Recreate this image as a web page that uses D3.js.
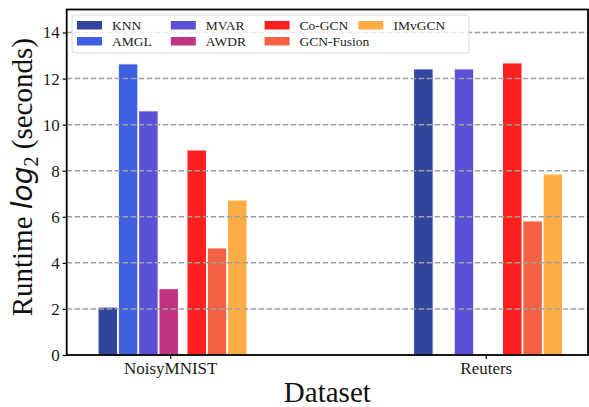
<!DOCTYPE html>
<html>
<head>
<meta charset="utf-8">
<script src="https://cdn.jsdelivr.net/npm/d3@7"></script>
<style>
  body { margin: 0; background: #fff; }
  svg text { font-family: "Liberation Serif", "Times New Roman", "DejaVu Serif", serif; }
  svg text .math { font-family: "DejaVu Sans", sans-serif; font-style: italic; }
</style>
</head>
<body>
<div id="chart"></div>
<script>
// Data
const datasets = ['NoisyMNIST', 'Reuters'];
const methods = ['KNN', 'AMGL', 'MVAR', 'AWDR', 'Co-GCN', 'GCN-Fusion', 'IMvGCN'];
const colors = ['#31459a', '#3f5fe3', '#5a52d6', '#c03582', '#ff1f1f', '#f46143', '#fcae45'];
// runtime (log2 seconds), one array per dataset, null = not available
const noisyMnistValues = [2.08, 12.64, 10.6, 2.88, 8.9, 4.65, 6.73];
const reutersValues = [12.42, null, 12.42, null, 12.68, 5.82, 7.86];
const yTicks = [0, 2, 4, 6, 8, 10, 12, 14];

const values = [noisyMnistValues, reutersValues];

const width = 589, height = 407;
const plot = { left: 66.7, right: 588, top: 9.5, bottom: 355 };

const svg = d3.select('#chart')
    .append('svg')
    .attr('width', width)
    .attr('height', height);

const x = d3.scaleLinear()
    .domain([-0.328, 1.324])
    .range([plot.left, plot.right]);

const y = d3.scaleLinear()
    .domain([0, 15])
    .range([plot.bottom, plot.top]);

// slot position of each method inside a group (small extra gap before the GCN methods)
const slot = d3.scaleLinear().domain([0, 3]).range([-62.4, -1.5]);
const offset = i => slot(i) + (i >= 4 ? 7.7 : 0);
const barWidth = 19.5;

// Bars
const bars = [];
datasets.forEach((ds, di) => {
    methods.forEach((m, mi) => {
        const v = values[di][mi];
        if (v != null) bars.push({ di, mi, v });
    });
});

svg.append('g')
    .selectAll('rect')
    .data(bars)
    .enter()
    .append('rect')
    .attr('x', d => x(d.di) + offset(d.mi) - barWidth / 2)
    .attr('y', d => y(d.v))
    .attr('width', barWidth)
    .attr('height', d => y(0) - y(d.v))
    .attr('fill', d => colors[d.mi])
    .attr('stroke', '#ffffff')
    .attr('stroke-width', 1);

// Grid lines (drawn over the bars)
svg.append('g')
    .selectAll('line')
    .data(yTicks.filter(t => t > 0))
    .enter()
    .append('line')
    .attr('x1', plot.left)
    .attr('x2', plot.right)
    .attr('y1', d => y(d))
    .attr('y2', d => y(d))
    .attr('stroke', '#a0a0a0')
    .attr('stroke-width', 1.5)
    .attr('stroke-dasharray', '5.5,2.5');

// Y axis
const yAxis = svg.append('g')
    .attr('transform', `translate(${plot.left},0)`)
    .call(d3.axisLeft(y).tickValues(yTicks).tickSize(4).tickSizeOuter(0).tickPadding(3));
yAxis.attr('font-family', null).attr('font-size', null);
yAxis.select('.domain').remove();
yAxis.selectAll('line').attr('stroke', '#000').attr('stroke-width', 1.2);
yAxis.selectAll('text')
    .style('font-size', '17px')
    .attr('fill', '#1a1a1a');

// X axis
const xAxis = svg.append('g')
    .attr('transform', `translate(0,${plot.bottom})`)
    .call(d3.axisBottom(x).tickValues([0, 1]).tickFormat(i => datasets[i]).tickSize(4).tickSizeOuter(0).tickPadding(3));
xAxis.attr('font-family', null).attr('font-size', null);
xAxis.select('.domain').remove();
xAxis.selectAll('line').attr('stroke', '#000').attr('stroke-width', 1.2);
xAxis.selectAll('text')
    .style('font-size', '17px')
    .attr('fill', '#1a1a1a');

// Frame
svg.append('rect')
    .attr('x', plot.left)
    .attr('y', plot.top)
    .attr('width', plot.right - plot.left)
    .attr('height', plot.bottom - plot.top)
    .attr('fill', 'none')
    .attr('stroke', '#000')
    .attr('stroke-width', 1.8);

// Axis titles
svg.append('text')
    .attr('x', (plot.left + plot.right) / 2)
    .attr('y', 402)
    .attr('text-anchor', 'middle')
    .style('font-size', '29px')
    .attr('fill', '#111')
    .text('Dataset');

const yTitle = svg.append('text')
    .attr('transform', `translate(32,${(plot.top + plot.bottom) / 2 - 5}) rotate(-90)`)
    .attr('text-anchor', 'middle')
    .style('font-size', '29px')
    .attr('fill', '#111');
yTitle.append('tspan').text('Runtime ');
yTitle.append('tspan').attr('class', 'math').style('font-size', '28px').text('log');
yTitle.append('tspan').style('font-size', '20px').attr('dy', 6).text('2');
yTitle.append('tspan').attr('dy', -6).text(' (seconds)');

// Legend
const legend = svg.append('g').attr('transform', 'translate(72,15)');
legend.append('rect')
    .attr('width', 397)
    .attr('height', 38)
    .attr('rx', 3)
    .attr('fill', '#fff')
    .attr('fill-opacity', 0.8)
    .attr('stroke', '#d8d8d8')
    .attr('stroke-width', 1);

const items = legend.selectAll('.item')
    .data(methods)
    .enter()
    .append('g')
    .attr('class', 'item')
    .attr('transform', (d, i) => `translate(${5 + Math.floor(i / 2) * 93.8},${6 + (i % 2) * 16})`);

items.append('rect')
    .attr('width', 25)
    .attr('height', 8.5)
    .attr('fill', (d, i) => colors[i]);

items.append('text')
    .attr('x', 35)
    .attr('y', 8.5)
    .style('font-size', '13.5px')
    .attr('fill', '#222')
    .text(d => d);
</script>
</body>
</html>
